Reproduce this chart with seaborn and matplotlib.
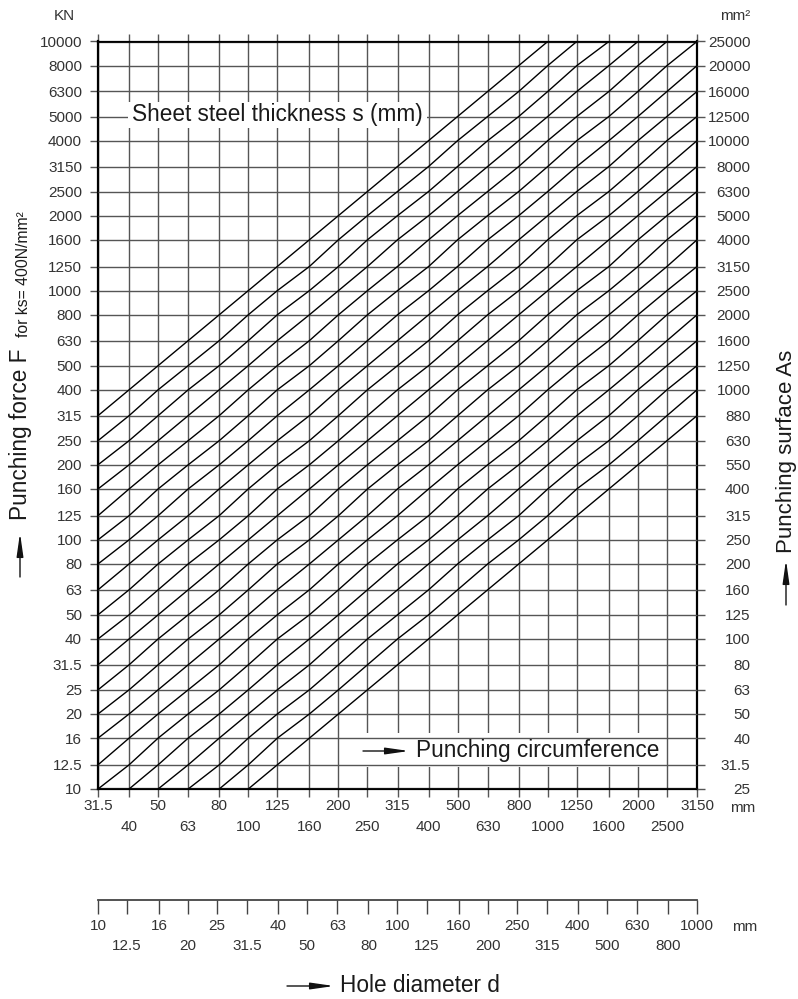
import numpy as np
import pandas as pd
import matplotlib
matplotlib.use("Agg")
import matplotlib.pyplot as plt
from matplotlib.patches import Rectangle
from matplotlib.ticker import NullLocator
import seaborn as sns

# punching circumference U (mm) - grid columns
circumference = [31.5, 40, 50, 63, 80, 100, 125, 160, 200, 250, 315, 400, 500,
                 630, 800, 1000, 1250, 1600, 2000, 2500, 3150]
# punching force F (kN) - grid rows, left axis
force = [10, 12.5, 16, 20, 25, 31.5, 40, 50, 63, 80, 100, 125, 160, 200, 250,
         315, 400, 500, 630, 800, 1000, 1250, 1600, 2000, 2500, 3150, 4000,
         5000, 6300, 8000, 10000]
# punching surface As (mm²) - right axis labels, as printed
surface = ["25", "31.5", "40", "50", "63", "80", "100", "125", "160", "200",
           "250", "315", "400", "550", "630", "880", "1000", "1250", "1600",
           "2000", "2500", "3150", "4000", "5000", "6300", "8000", "10000",
           "12500", "16000", "20000", "25000"]
# hole diameter d (mm) - lower scale
hole_diameter = [10, 12.5, 16, 20, 25, 31.5, 40, 50, 63, 80, 100, 125, 160,
                 200, 250, 315, 400, 500, 630, 800, 1000]
# sheet steel thickness s (mm) - one diagonal per value
thickness = [0.25, 0.315, 0.4, 0.5, 0.63, 0.8, 1, 1.25, 1.6, 2, 2.5, 3.15, 4,
             5, 6.3, 8, 10, 12.5, 16, 20, 25]
ks = 400  # N/mm²

# F = ks * s * U, snapped to the printed R10 grid values
log_force = np.log10(force)
rows = []
for s in thickness:
    for u in circumference:
        f = ks * s * u / 1000
        if force[0] / 1.06 <= f <= force[-1] * 1.06:
            j = int(np.argmin(np.abs(log_force - np.log10(f))))
            rows.append({"thickness": s, "circumference": u, "force": force[j]})
lines = pd.DataFrame(rows)

sns.set_style("white")
plt.rcParams["font.family"] = ["Liberation Sans", "DejaVu Sans"]

W, H = 798, 999
GRID = "#555555"
TXT = "#1a1a1a"
LBL = "#333333"


def fx(x):
    return x / W


def fy(y):
    return 1 - y / H


L, R, T, B = 98, 697, 41.5, 789
fig = plt.figure(figsize=(W / 100, H / 100), dpi=100)
ax = fig.add_axes([fx(L), fy(B), (R - L) / W, (B - T) / H])
ax.set_xscale("log")
ax.set_yscale("log")

# grid: verticals under the label box, horizontals over it
ax.vlines(circumference, force[0], force[-1], colors=GRID, lw=1.0, zorder=1)
ax.add_patch(Rectangle(((352 - L) / (R - L), (B - 767) / (B - T)),
                       (663 - 352) / (R - L), 34 / (B - T),
                       transform=ax.transAxes, fc="white", ec="none", zorder=2))
ax.hlines(force, circumference[0], circumference[-1], colors=GRID, lw=1.0, zorder=3)

sns.lineplot(data=lines, x="circumference", y="force", units="thickness",
             estimator=None, color="black", lw=1.0, legend=False, ax=ax, zorder=3)

ax.add_patch(Rectangle(((128 - L) / (R - L), (B - 128) / (B - T)),
                       (427 - 128) / (R - L), 26 / (B - T),
                       transform=ax.transAxes, fc="white", ec="none", zorder=4))

ax.set_xlim(circumference[0], circumference[-1])
ax.set_ylim(force[0], force[-1])
ax.set_xlabel("")
ax.set_ylabel("")

fmt = lambda v: f"{v:g}"
ax.set_xticks(circumference[::2], labels=[fmt(v) for v in circumference[::2]])
ax.set_xticks(circumference[1::2], labels=[fmt(v) for v in circumference[1::2]], minor=True)
ax.set_yticks(force, labels=[fmt(v) for v in force])
ax.yaxis.set_minor_locator(NullLocator())
ax.tick_params(axis="x", which="both", direction="out", length=5.5, width=1,
               color=GRID, top=True, bottom=True, labelsize=11, labelcolor=LBL)
ax.tick_params(axis="x", which="major", pad=2)
ax.tick_params(axis="x", which="minor", pad=17)
ax.tick_params(axis="y", which="major", direction="out", length=5.5, width=1,
               color=GRID, left=True, right=False, pad=6, labelsize=11, labelcolor=LBL)
for sp in ax.spines.values():
    sp.set_visible(True)
    sp.set_linewidth(1.6)
    sp.set_color("black")

ax2 = ax.twinx()
ax2.set_yscale("log")
ax2.set_ylim(force[0], force[-1])
ax2.set_yticks(force, labels=surface)
ax2.yaxis.set_minor_locator(NullLocator())
ax2.tick_params(axis="y", which="major", direction="out", length=5.5, width=1,
                color=GRID, right=True, pad=33, labelsize=11, labelcolor=LBL)
for t in ax2.get_yticklabels():
    t.set_ha("right")
for sp in ax2.spines.values():
    sp.set_visible(False)

# hole diameter scale
hx = fig.add_axes([fx(L), fy(900), (R - L) / W, 0.0001])
hx.set_xscale("log")
hx.set_xlim(hole_diameter[0], hole_diameter[-1])
hx.set_xticks(hole_diameter[::2], labels=[fmt(v) for v in hole_diameter[::2]])
hx.set_xticks(hole_diameter[1::2], labels=[fmt(v) for v in hole_diameter[1::2]], minor=True)
hx.set_yticks([])
hx.patch.set_visible(False)
for k in ["top", "left", "right"]:
    hx.spines[k].set_visible(False)
hx.spines["bottom"].set_linewidth(1.3)
hx.spines["bottom"].set_color("#444444")
hx.tick_params(axis="x", which="both", direction="out", length=10, width=1,
               color="#444444", bottom=True, top=False, labelsize=11, labelcolor=LBL)
hx.tick_params(axis="x", which="major", pad=3.4)
hx.tick_params(axis="x", which="minor", pad=17.8)

# texts
fig.text(fx(64), fy(16), "KN", ha="center", va="center", fontsize=11, color=LBL)
fig.text(fx(750), fy(16), "mm²", ha="right", va="center", fontsize=11, color=LBL)
fig.text(fx(743), fy(808), "mm", ha="center", va="center", fontsize=11, color=LBL)
fig.text(fx(745), fy(927), "mm", ha="center", va="center", fontsize=11, color=LBL)

fig.text(fx(132), fy(115), "Sheet steel thickness s (mm)", ha="left",
         va="center", fontsize=16.3, color=TXT)
fig.text(fx(416), fy(751), "Punching circumference", ha="left",
         va="center", fontsize=16.3, color=TXT)
fig.text(fx(340), fy(986), "Hole diameter d", ha="left",
         va="center", fontsize=16.3, color=TXT)
fig.text(fx(27), fy(520), "Punching force F", rotation=90, rotation_mode="anchor",
         ha="left", va="baseline", fontsize=16.3, color=TXT)
fig.text(fx(28), fy(337), "for ks= 400N/mm²", rotation=90, rotation_mode="anchor",
         ha="left", va="baseline", fontsize=11.3, color=TXT)
fig.text(fx(792), fy(553), "Punching surface As", rotation=90, rotation_mode="anchor",
         ha="left", va="baseline", fontsize=16, color=TXT)

arrow = dict(arrowstyle="-|>,head_length=1.4,head_width=0.2", color="#111111",
             lw=1.0, shrinkA=0, shrinkB=0)
for tail, tip in [((363, 751), (409, 751)), ((287, 986), (334, 986)),
                  ((20, 577), (20, 533)), ((786, 605), (786, 560))]:
    ax.annotate("", xy=(fx(tip[0]), fy(tip[1])), xytext=(fx(tail[0]), fy(tail[1])),
                xycoords="figure fraction", textcoords="figure fraction",
                arrowprops=arrow, annotation_clip=False)

fig.savefig("out.png", dpi=100)
